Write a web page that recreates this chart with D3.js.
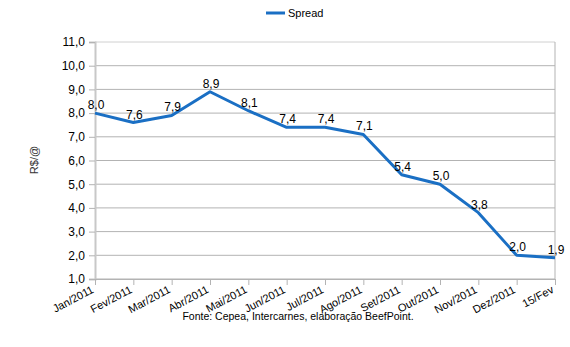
<!DOCTYPE html>
<html><head><meta charset="utf-8">
<script src="https://cdn.jsdelivr.net/npm/d3@7"></script>
<style>body{margin:0;background:#fff}svg{display:block;font-family:"Liberation Sans",Arial,sans-serif}</style>
</head><body><svg id="c" width="570" height="347"></svg>
<script>
const categories = ["Jan/2011","Fev/2011","Mar/2011","Abr/2011","Mai/2011","Jun/2011","Jul/2011","Ago/2011","Set/2011","Out/2011","Nov/2011","Dez/2011","15/Fev"];
const spread = [8.0,7.6,7.9,8.9,8.1,7.4,7.4,7.1,5.4,5.0,3.8,2.0,1.9];
const yTicks = [1,2,3,4,5,6,7,8,9,10,11];
const seriesName = "Spread";
const yTitle = "R$/@";
const source = "Fonte: Cepea, Intercarnes, elaboração BeefPoint.";

const svg = d3.select("#c");
const L = 95, R = 555, T = 42, B = 279;
const fmt = v => v.toFixed(1).replace(".", ",");
const x = d3.scalePoint().domain(categories).range([L, R]);
const y = d3.scaleLinear().domain([1, 11]).range([B, T]);

// gridlines
svg.append("g").selectAll("line").data(yTicks).join("line")
  .attr("x1", L).attr("x2", R).attr("y1", d => y(d)).attr("y2", d => y(d))
  .attr("stroke", d => d === 11 ? "#d0d0d0" : "#b3b3b3").attr("stroke-width", 1);
// right border
svg.append("line").attr("x1", R).attr("x2", R).attr("y1", T).attr("y2", B).attr("stroke", "#b3b3b3");

// y axis
const ya = svg.append("g").attr("transform", `translate(${L},0)`)
  .call(d3.axisLeft(y).tickValues(yTicks).tickFormat(fmt).tickSize(6).tickPadding(4));
ya.select(".domain").attr("stroke", "#c8c8c8").attr("stroke-width", 2);
ya.selectAll(".tick line").attr("stroke", "#b3b3b3");
ya.selectAll("text").attr("font-size", 12).attr("fill", "#000").attr("font-family", "Liberation Sans, Arial, sans-serif");

// x axis
const xa = svg.append("g").attr("transform", `translate(0,${B})`)
  .call(d3.axisBottom(x).tickSize(6).tickPadding(4));
xa.select(".domain").attr("stroke", "#b3b3b3");
xa.selectAll(".tick line").attr("stroke", "#b3b3b3");
xa.selectAll("text").attr("font-size", 11).attr("fill", "#000")
  .attr("font-family", "Liberation Sans, Arial, sans-serif")
  .attr("text-anchor", "end").attr("x", 0).attr("y", 0).attr("dx", "0").attr("dy", "0")
  .attr("transform", "translate(-1,13) rotate(-28)");

// line
const line = d3.line().x((d, i) => x(categories[i])).y(d => y(d));
svg.append("path").datum(spread).attr("d", line)
  .attr("fill", "none").attr("stroke", "#1a6fc4").attr("stroke-width", 3).attr("stroke-linejoin", "round");

// value labels
svg.append("g").selectAll("text").data(spread).join("text")
  .attr("x", (d, i) => x(categories[i]) + 1).attr("y", d => y(d) - 4)
  .attr("text-anchor", "middle").attr("font-size", 12).attr("fill", "#000")
  .text(fmt);

// y title
svg.append("text").attr("transform", "translate(38,160) rotate(-90)")
  .attr("text-anchor", "middle").attr("font-size", 11).attr("fill", "#333").text(yTitle);

// legend
svg.append("line").attr("x1", 266).attr("x2", 285).attr("y1", 13).attr("y2", 13)
  .attr("stroke", "#1a6fc4").attr("stroke-width", 3);
svg.append("text").attr("x", 288).attr("y", 17).attr("font-size", 11).attr("fill", "#000").text(seriesName);

// source
svg.append("text").attr("x", 298).attr("y", 320).attr("text-anchor", "middle")
  .attr("font-size", 10.5).attr("fill", "#000").text(source);
</script></body></html>
